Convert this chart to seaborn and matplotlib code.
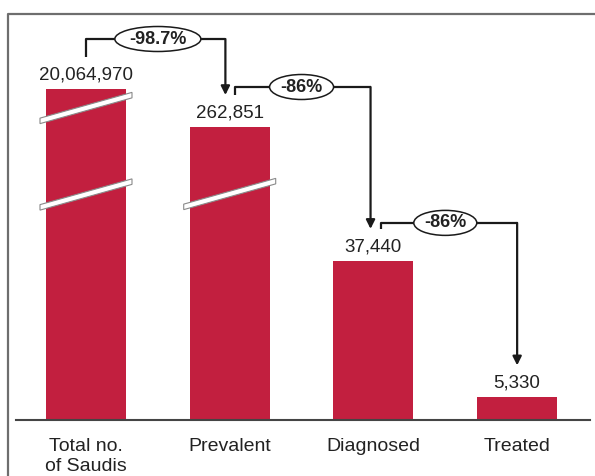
import numpy as np
import matplotlib
matplotlib.use("Agg")
import matplotlib.pyplot as plt
from matplotlib.patches import Ellipse, Polygon
from matplotlib.lines import Line2D
import seaborn as sns

# ---- data -------------------------------------------------------------
stages = ["Total no.\nof Saudis", "Prevalent", "Diagnosed", "Treated"]
counts = [20_064_970, 262_851, 37_440, 5_330]
drop_decimals = [1, 0, 0]          # decimals shown on each step's % change

# ---- styling ------------------------------------------------------------
BAR_COLOR = "#C21F3F"
TEXT_COLOR = "#222222"
FRAME_COLOR = "#6E6E6E"

sns.set_style("white")
plt.rcParams["font.family"] = ["Liberation Sans", "DejaVu Sans"]

W_PX, H_PX, DPI = 595, 476, 100
fig = plt.figure(figsize=(W_PX / DPI, H_PX / DPI), dpi=DPI)

# axes placed in pixel terms
AX_L, AX_R, AX_B, AX_T = 16, 590, 420, 14
AXW, AXH = AX_R - AX_L, AX_B - AX_T
ax = fig.add_axes([AX_L / W_PX, (H_PX - AX_B) / H_PX, AXW / W_PX, AXH / H_PX])

# broken value axis: linear at the bottom, compressed above the break
VALUE_KNOTS = np.array([0.0, 45_000.0, 262_851.0, 20_064_970.0, 80_000_000.0])
HEIGHT_KNOTS = np.array([0.0, 191.25, 293.0, 331.0, 483.0])


def fwd(v):
    return np.interp(np.asarray(v, dtype=float), VALUE_KNOTS, HEIGHT_KNOTS)


def inv(h):
    return np.interp(np.asarray(h, dtype=float), HEIGHT_KNOTS, VALUE_KNOTS)


ax.set_yscale("function", functions=(fwd, inv))

sns.barplot(x=stages, y=counts, color=BAR_COLOR, width=0.557,
            saturation=1, linewidth=0, ax=ax)

XMIN, XMAX = -0.487, 3.507
ax.set_xlim(XMIN, XMAX)
ax.set_ylim(0, float(inv(AXH)))
PX_PER_CAT = AXW / (XMAX - XMIN)


def to_axes(x_cat, h_px):
    """category x / pixel height above baseline -> axes fraction"""
    return (x_cat - XMIN) / (XMAX - XMIN), h_px / AXH


# spines / ticks
for side in ["left", "right", "top"]:
    ax.spines[side].set_visible(False)
ax.spines["bottom"].set_color("#444444")
ax.spines["bottom"].set_linewidth(1.5)
ax.set_yticks([])
ax.tick_params(axis="x", length=0, pad=13, labelsize=14, colors=TEXT_COLOR)
for lbl in ax.get_xticklabels():
    lbl.set_linespacing(1.2)
ax.set_xlabel("")
ax.set_ylabel("")

# value labels on top of bars
for i, v in enumerate(counts):
    ax.annotate(f"{v:,}", xy=(i, v), xytext=(0, 4), textcoords="offset points",
                ha="center", va="bottom", fontsize=13.5, color=TEXT_COLOR)

# axis-break marks on the two tall bars (heights in px above baseline)
breaks = {0: [225.5, 312.0], 1: [226.0]}
BREAK_HALF_W = 46     # px
BREAK_SLOPE = 0.28
BREAK_THICK = 5.5
for i, hs in breaks.items():
    for hc in hs:
        pts_px = [(-BREAK_HALF_W, hc - BREAK_SLOPE * BREAK_HALF_W - BREAK_THICK / 2),
                  (BREAK_HALF_W, hc + BREAK_SLOPE * BREAK_HALF_W - BREAK_THICK / 2),
                  (BREAK_HALF_W, hc + BREAK_SLOPE * BREAK_HALF_W + BREAK_THICK / 2),
                  (-BREAK_HALF_W, hc - BREAK_SLOPE * BREAK_HALF_W + BREAK_THICK / 2)]
        pts = [to_axes(i + dx / PX_PER_CAT, h) for dx, h in pts_px]
        ax.add_patch(Polygon(pts, closed=True, facecolor="white",
                             edgecolor="#8A8A8A", linewidth=0.8,
                             transform=ax.transAxes, clip_on=False, zorder=5))

# step-down brackets with % change
LABEL_GAP = 32                       # px above bar top where brackets attach
rise = [18, 8, 6]                    # px the bracket climbs before going across
start_dx = [0.0, 0.04, 0.05]
end_dx = [-0.03, -0.02, 0.0]
ell_w = [86, 64, 63]
ELL_H = 25
LINE_KW = dict(color="#1A1A1A", linewidth=1.6, transform=ax.transAxes,
               clip_on=False, zorder=6, solid_capstyle="butt")

for k in range(len(counts) - 1):
    change = (counts[k + 1] - counts[k]) / counts[k] * 100
    label = f"{change:.{drop_decimals[k]}f}%"

    x0 = k + start_dx[k]
    x1 = k + 1 + end_dx[k]
    h_start = fwd(counts[k]) + LABEL_GAP
    h_level = h_start + rise[k]
    h_tip = fwd(counts[k + 1]) + LABEL_GAP

    xs, ys = zip(*[to_axes(x0, h_start), to_axes(x0, h_level), to_axes(x1, h_level)])
    ax.add_line(Line2D(xs, ys, **LINE_KW))
    ax.annotate("", xy=to_axes(x1, h_tip), xycoords="axes fraction",
                xytext=to_axes(x1, h_level), textcoords="axes fraction",
                arrowprops=dict(arrowstyle="-|>", color="#1A1A1A", lw=1.6,
                                mutation_scale=13, shrinkA=0, shrinkB=0),
                zorder=6, annotation_clip=False)

    cx, cy = to_axes(k + 0.5, h_level)
    ax.add_patch(Ellipse((cx, cy), ell_w[k] / AXW, ELL_H / AXH,
                         facecolor="white", edgecolor="#1A1A1A", linewidth=1.1,
                         transform=ax.transAxes, clip_on=False, zorder=7))
    ax.text(cx, cy, label, ha="center", va="center", fontsize=13,
            fontweight="bold", color=TEXT_COLOR, transform=ax.transAxes,
            zorder=8, clip_on=False)

# outer frame (left and top rules)
fig.add_artist(Line2D([8 / W_PX, 8 / W_PX, 1.0], [0.0, 1 - 14 / H_PX, 1 - 14 / H_PX],
                      transform=fig.transFigure, color=FRAME_COLOR, linewidth=1.6))

fig.savefig("out.png", dpi=DPI)
